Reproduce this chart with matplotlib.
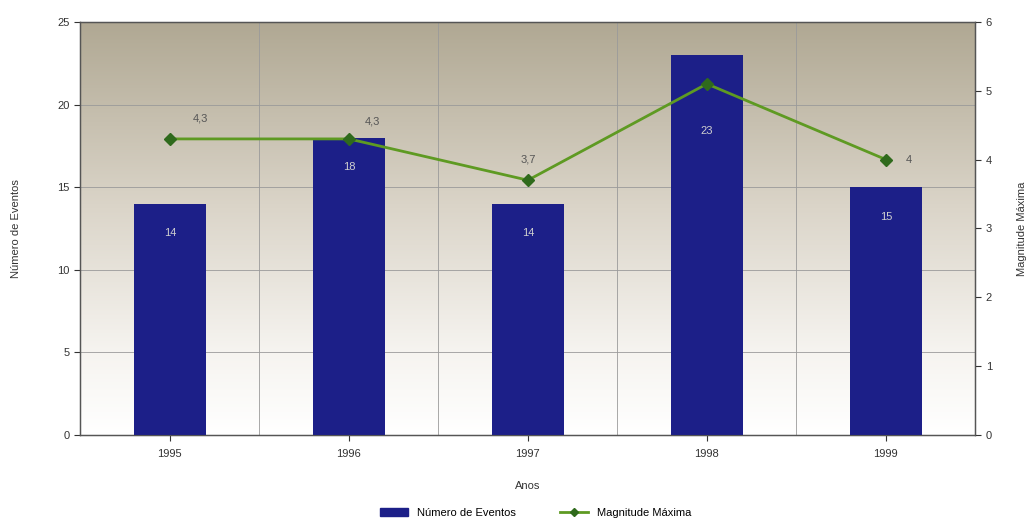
import matplotlib
matplotlib.use("Agg")
import matplotlib.pyplot as plt
import numpy as np
from matplotlib.colors import LinearSegmentedColormap
from matplotlib.patches import Patch
from matplotlib.lines import Line2D

anos = ["1995", "1996", "1997", "1998", "1999"]
eventos = [14, 18, 14, 23, 15]
magnitude = [4.3, 4.3, 3.7, 5.1, 4.0]
mag_labels = ["4,3", "4,3", "3,7", "", "4"]

NAVY = "#1c1f88"
GREEN = "#5e9a22"
DARK_GREEN = "#2f6a1c"
TXT = "#333333"

plt.rcParams.update({
    "font.family": ["Liberation Sans", "DejaVu Sans"],
    "font.size": 8,
})

fig = plt.figure(figsize=(10.3, 5.22), dpi=100)
ax = fig.add_axes([0.078, 0.167, 0.869, 0.791])
x = np.arange(len(anos))

# gradient background, tan at the top fading to white
cmap = LinearSegmentedColormap.from_list(
    "bg", [(0, "#ffffff"), (0.2, "#f6f4f0"), (0.55, "#dbd5c9"), (1, "#b0a893")])
grad = np.linspace(0, 1, 256).reshape(-1, 1)
ax.imshow(grad, aspect="auto", cmap=cmap, origin="lower",
          extent=[-0.5, 4.5, 0, 25], zorder=0)

ax.bar(x, eventos, width=0.4, color=NAVY, zorder=3)
for xi, v in zip(x, eventos):
    ax.text(xi, min(v - 1.8, 18.4), f"{v}", ha="center", va="center", fontsize=8,
            color="#cfcfcf", zorder=4)

ax.set_xlim(-0.5, 4.5)
ax.set_ylim(0, 25)
ax.set_yticks(range(0, 26, 5))
ax.set_xticks(x)
ax.set_xticklabels(anos)
for b in np.arange(0.5, 4.5, 1):
    ax.axvline(b, color="#9a9a9a", lw=0.6, zorder=1)
for yv in range(5, 25, 5):
    ax.axhline(yv, color="#9a9a9a", lw=0.6, zorder=1)
ax.set_xlabel("Anos", color=TXT, fontsize=8, labelpad=16)
ax.set_ylabel("Número de Eventos", color=TXT, fontsize=8, labelpad=26)
ax.tick_params(colors=TXT, labelsize=8, length=4)
ax.tick_params(axis="x", pad=6)
for s in ax.spines.values():
    s.set_color("#555555")
    s.set_linewidth(1.0)

ax2 = ax.twinx()
ax2.plot(x, magnitude, color=GREEN, lw=2, marker="D", markersize=6,
         markerfacecolor=DARK_GREEN, markeredgecolor=DARK_GREEN, zorder=5)
offsets = [(0.17, 0.3), (0.13, 0.25), (0.0, 0.3), (0.0, 0.0), (0.13, 0.0)]
for xi, m, lab, (dx, dy) in zip(x, magnitude, mag_labels, offsets):
    if lab:
        ax2.text(xi + dx, m + dy, lab, ha="center", va="center",
                 fontsize=8, color="#555555")
ax2.set_ylim(0, 6)
ax2.set_yticks(range(0, 7))
ax2.set_ylabel("Magnitude Máxima", color=TXT, fontsize=8, labelpad=18)
ax2.tick_params(colors=TXT, labelsize=8, length=4)
for s in ax2.spines.values():
    s.set_color("#555555")

handles = [Patch(color=NAVY),
           Line2D([0], [0], color=GREEN, lw=2, marker="D", markersize=4,
                  markerfacecolor=DARK_GREEN, markeredgecolor=DARK_GREEN)]
fig.legend(handles, ["Número de Eventos", "Magnitude Máxima"], loc="lower center",
           bbox_to_anchor=(0.52, -0.012), ncol=2, frameon=False, fontsize=8,
           columnspacing=4, handlelength=2.5)

fig.savefig("out.png", dpi=100, facecolor="white")
